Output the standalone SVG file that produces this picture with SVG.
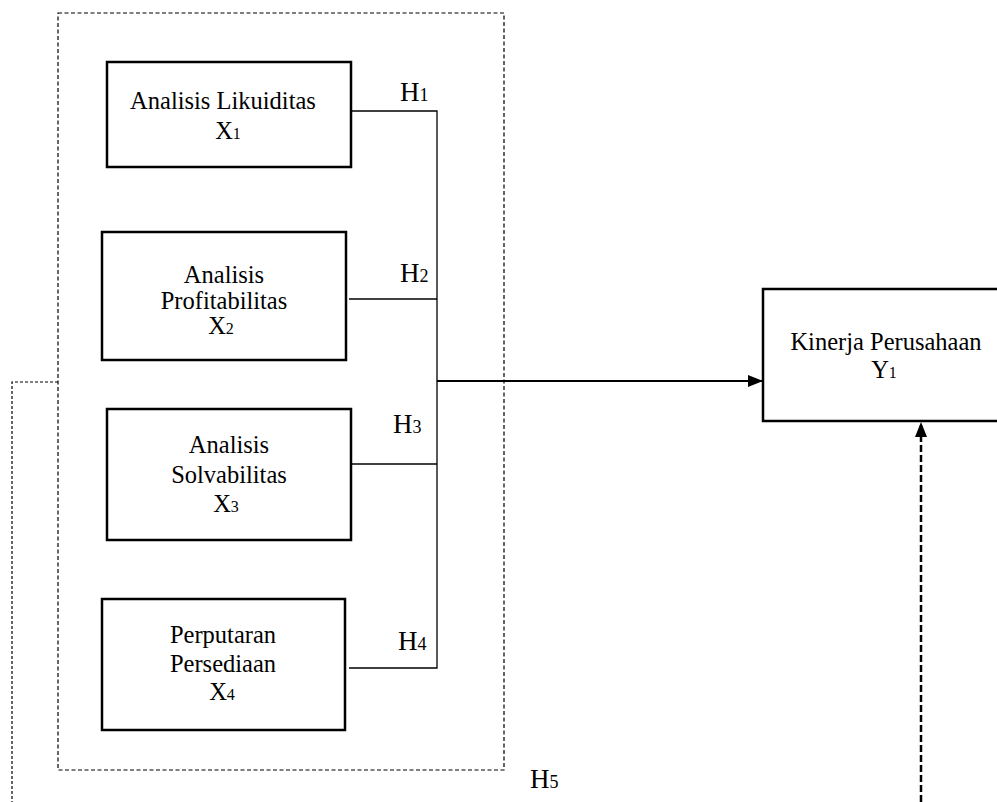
<svg xmlns="http://www.w3.org/2000/svg" width="997" height="802" viewBox="0 0 997 802">
<style>
text{font-family:"Liberation Serif","Times New Roman",serif;font-size:24.5px;fill:#000}
.c{text-anchor:middle}
.s{font-size:16px}
.h{font-size:27px}
.hs{font-size:18px}
.box{fill:#fff;stroke:#000;stroke-width:2.5}
.ln{stroke:#000;stroke-width:1.3;fill:none}
</style>
<defs>
<marker id="ah" markerWidth="15" markerHeight="12" refX="15" refY="6" orient="auto" markerUnits="userSpaceOnUse">
<path d="M0,0 L15,6 L0,12 Z" fill="#000"/>
</marker>
</defs>
<rect width="997" height="802" fill="#fff"/>
<g id="group-box">
<rect x="58" y="13" width="446" height="757" fill="none" stroke="#000" stroke-width="1.2" stroke-dasharray="4 2.5"/>
</g>
<g id="connectors">
<path class="ln" d="M351,111 H437 V668 H349"/>
<path class="ln" d="M349,299 H437"/>
<path class="ln" d="M351,464 H437"/>
<path d="M437,381 H763" stroke="#000" stroke-width="2" fill="none" marker-end="url(#ah)"/>
<path d="M921,802 V422" stroke="#000" stroke-width="2.5" fill="none" stroke-dasharray="7 3" marker-end="url(#ah)"/>
<path d="M58,382 H12 V802" stroke="#000" stroke-width="1.2" fill="none" stroke-dasharray="3 2"/>
<text class="h" x="400" y="101">H<tspan class="hs">1</tspan></text>
<text class="h" x="400" y="282">H<tspan class="hs">2</tspan></text>
<text class="h" x="393" y="433">H<tspan class="hs">3</tspan></text>
<text class="h" x="398" y="650">H<tspan class="hs">4</tspan></text>
<text class="h" x="530" y="788">H<tspan class="hs">5</tspan></text>
</g>
<g id="x1">
<rect class="box" x="107" y="62" width="244" height="105"/>
<text class="c" x="223" y="109">Analisis Likuiditas</text>
<text class="c" x="228" y="139">X<tspan class="s">1</tspan></text>
</g>
<g id="x2">
<rect class="box" x="102" y="232" width="244" height="128"/>
<text class="c" x="224" y="283">Analisis</text>
<text class="c" x="224" y="309">Profitabilitas</text>
<text class="c" x="221" y="334">X<tspan class="s">2</tspan></text>
</g>
<g id="x3">
<rect class="box" x="107" y="409" width="244" height="131"/>
<text class="c" x="229" y="453">Analisis</text>
<text class="c" x="229" y="483">Solvabilitas</text>
<text class="c" x="226" y="512">X<tspan class="s">3</tspan></text>
</g>
<g id="x4">
<rect class="box" x="102" y="599" width="243" height="131"/>
<text class="c" x="223" y="643">Perputaran</text>
<text class="c" x="223" y="672">Persediaan</text>
<text class="c" x="222" y="700">X<tspan class="s">4</tspan></text>
</g>
<g id="y1">
<rect class="box" x="763" y="289" width="238" height="132"/>
<text class="c" x="886" y="350">Kinerja Perusahaan</text>
<text class="c" x="884" y="378">Y<tspan class="s">1</tspan></text>
</g>
</svg>
